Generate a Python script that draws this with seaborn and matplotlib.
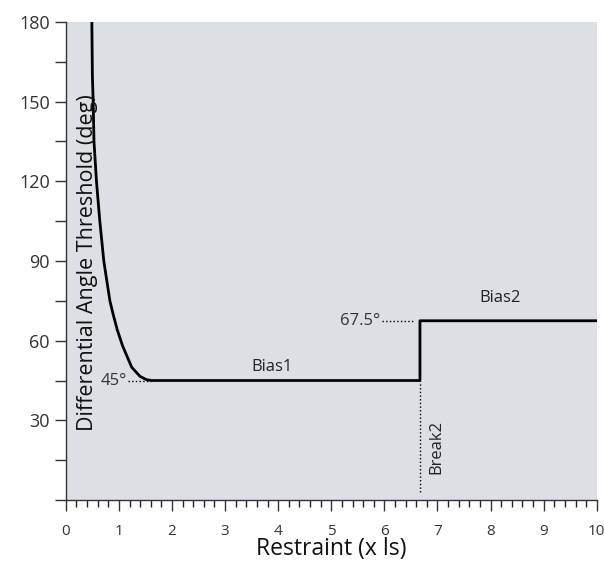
import matplotlib
matplotlib.use("Agg")
import matplotlib.pyplot as plt
import pandas as pd
import seaborn as sns
from matplotlib.ticker import MultipleLocator, FixedLocator

# threshold curve
restraint = [0.49, 0.50, 0.515, 0.53, 0.577, 0.64, 0.715, 0.83, 0.89, 0.97, 1.07,
             1.24, 1.40, 1.52, 1.62, 6.67, 6.67, 10.0]
threshold = [180, 160, 150, 135, 120, 105, 90, 75, 70, 64, 58,
             50, 46.5, 45.3, 45, 45, 67.5, 67.5]

bias1 = 45
bias2 = 67.5
break2 = 6.67

sns.set_theme(style="ticks")
plt.rcParams['font.family'] = ['Open Sans', 'DejaVu Sans']

df = pd.DataFrame({'restraint': restraint, 'threshold': threshold})

fig = plt.figure(figsize=(6.04, 5.61), dpi=100)
ax = fig.add_axes([0.109, 0.1087, 0.879, 0.8521])
ax.set_facecolor('#dcdfe3')

sns.lineplot(data=df, x='restraint', y='threshold', sort=False, estimator=None,
             color='black', linewidth=2.0, ax=ax)

# dotted helper lines
ax.plot([1.17, 1.60], [bias1, bias1], ':', color='black', lw=1)
ax.plot([5.95, 6.55], [bias2, bias2], ':', color='black', lw=1)
ax.plot([break2, break2], [3, bias1], ':', color='black', lw=1)

ax.text(1.15, bias1, '45°', fontsize=12, ha='right', va='center', color='#333333')
ax.text(5.93, bias2, '67.5°', fontsize=12, ha='right', va='center', color='#333333')
ax.text(3.88, 50, 'Bias1', fontsize=12, ha='center', va='center', color='#222222')
ax.text(8.17, 76, 'Bias2', fontsize=12, ha='center', va='center', color='#222222')
ax.text(6.97, 20, 'Break2', fontsize=12, rotation=90, ha='center', va='center',
        color='#222222')
ax.text(0.40, 89.5, 'Differential Angle Threshold (deg)', fontsize=15.5, rotation=90,
        ha='center', va='center', color='#111111')

ax.set_xlim(0, 10)
ax.set_ylim(0, 180)
ax.xaxis.set_major_locator(FixedLocator(range(11)))
ax.xaxis.set_minor_locator(MultipleLocator(0.2))
ax.yaxis.set_major_locator(FixedLocator([30, 60, 90, 120, 150, 180]))
ax.yaxis.set_minor_locator(MultipleLocator(15))
ax.tick_params(axis='x', which='major', length=8, width=1, pad=9, labelsize=11,
               colors='#333333')
ax.tick_params(axis='x', which='minor', length=5, width=1)
ax.tick_params(axis='y', which='both', length=8, width=1, labelsize=13,
               colors='#333333')
ax.set_xlabel('Restraint (x ls)', fontsize=16.5, labelpad=-1, color='#111111')
ax.set_ylabel('')

for s in ['top', 'right']:
    ax.spines[s].set_visible(False)
for s in ['left', 'bottom']:
    ax.spines[s].set_color('#333333')
    ax.spines[s].set_linewidth(1)

fig.savefig('out.png', dpi=100)
